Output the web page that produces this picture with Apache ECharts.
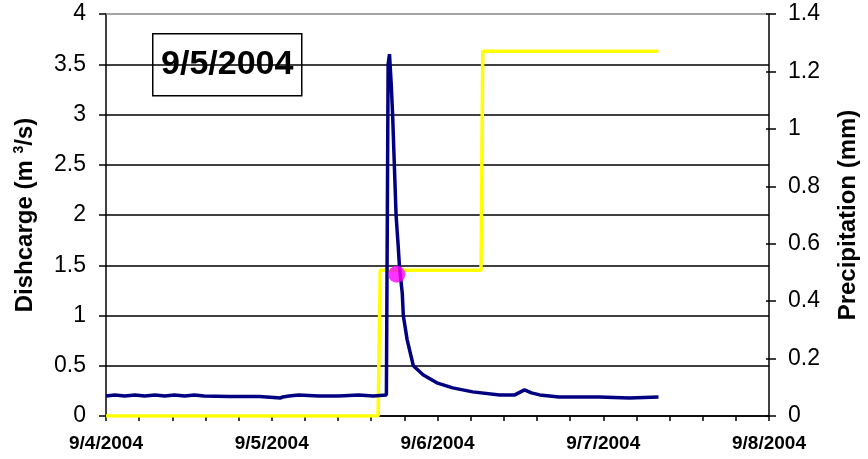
<!DOCTYPE html>
<html>
<head>
<meta charset="utf-8">
<script src="https://cdn.jsdelivr.net/npm/echarts@6/dist/echarts.min.js"></script>
<style>
html,body{margin:0;padding:0;background:#fff;}
#chart{width:868px;height:459px;}
</style>
</head>
<body>
<div id="chart"></div>
<script>
// x values are hours after 9/4/2004 00:00
var xTickLabels = ['9/4/2004', '9/5/2004', '9/6/2004', '9/7/2004', '9/8/2004'];
var dischargeHours = [0, 1.3, 2.7, 4.2, 5.6, 7.1, 8.5, 9.9, 11.4, 12.8, 14.2, 17.8, 22.2, 25.3, 25.6, 26.5, 27.9, 30.8, 33.7, 36.6, 38.7, 40.6,
  40.85, 41.05, 41.3, 41.5, 41.75, 42.0, 42.3, 42.5, 42.9, 43.05, 43.6, 44.5, 45.9, 47.9, 50.2, 53.1, 57.0, 59.2, 60.6, 61.6, 62.8, 65.6, 71.4, 75.8, 80.0];
var dischargeValues = [0.20, 0.21, 0.20, 0.21, 0.20, 0.21, 0.20, 0.21, 0.20, 0.21, 0.20, 0.195, 0.195, 0.18, 0.19, 0.20, 0.21, 0.20, 0.20, 0.21, 0.20, 0.21,
  3.5, 3.6, 3.3, 3.0, 2.5, 2.0, 1.7, 1.48, 1.22, 1.0, 0.76, 0.5, 0.41, 0.33, 0.28, 0.24, 0.21, 0.21, 0.26, 0.23, 0.21, 0.19, 0.19, 0.18, 0.19];
var precipHours = [0, 39.4, 39.7, 54.3, 54.55, 80.0];
var precipValues = [0, 0, 0.508, 0.508, 1.27, 1.27];
var sampleHours = [42.1];
var sampleValues = [1.41];
var titleText = '9/5/2004';

function pairs(xs, ys) { return xs.map(function (x, i) { return [x, ys[i]]; }); }

var font = 'Liberation Sans, Arial, sans-serif';
var gridBox = {left: 106, right: 95, top: 14, bottom: 43};
var chart = echarts.init(document.getElementById('chart'), null, {renderer: 'canvas'});
chart.setOption({
  animation: false,
  backgroundColor: '#fff',
  grid: [Object.assign({}, gridBox), Object.assign({}, gridBox)],
  xAxis: [{
    type: 'value', gridIndex: 0, min: 0, max: 96, interval: 4.8, position: 'bottom',
    axisLine: {onZero: false, lineStyle: {color: '#000', width: 1.5}},
    axisTick: {length: 5, lineStyle: {color: '#000', width: 1.5}},
    splitLine: {show: false},
    axisLabel: {
      margin: 18, color: '#000', fontFamily: font, fontSize: 19, fontWeight: 'bold',
      formatter: function (v) {
        var d = v / 24, r = Math.round(d);
        return Math.abs(d - r) < 1e-6 ? xTickLabels[r] : '';
      }
    }
  }, {
    type: 'value', gridIndex: 0, min: 0, max: 96, position: 'top',
    axisLine: {show: true, onZero: false, lineStyle: {color: '#888', width: 1.5}},
    axisTick: {show: false}, axisLabel: {show: false}, splitLine: {show: false}
  }, {
    type: 'value', gridIndex: 1, min: 0, max: 96, show: false
  }],
  yAxis: [{
    type: 'value', gridIndex: 0, min: 0, max: 4, interval: 0.5, position: 'left',
    name: 'Dishcarge (m {sup|3}/s)', nameLocation: 'middle', nameGap: 68,
    nameTextStyle: {color: '#000', fontFamily: font, fontSize: 24, fontWeight: 'bold',
      rich: {sup: {fontSize: 14, fontWeight: 'bold', fontFamily: font, color: '#000', padding: [0, 0, 12, 0]}}},
    axisLine: {show: true, onZero: false, lineStyle: {color: '#000', width: 1.5}},
    axisTick: {show: true, length: 7, lineStyle: {color: '#000', width: 1.5}},
    axisLabel: {margin: 20, color: '#000', fontFamily: font, fontSize: 23},
    splitLine: {show: true, showMaxLine: false, lineStyle: {color: '#000', width: 1.5}}
  }, {
    type: 'value', gridIndex: 0, min: 0, max: 1.4, interval: 0.2, position: 'right',
    name: 'Precipitation (mm)', nameLocation: 'middle', nameGap: 67,
    nameTextStyle: {color: '#000', fontFamily: font, fontSize: 24, fontWeight: 'bold'},
    axisLine: {show: true, onZero: false, lineStyle: {color: '#000', width: 1.5}},
    axisTick: {show: true, length: 7, lineStyle: {color: '#000', width: 1.5}},
    axisLabel: {margin: 19, color: '#000', fontFamily: font, fontSize: 23},
    splitLine: {show: false}
  }, {
    type: 'value', gridIndex: 1, min: 0, max: 1.4, interval: 0.2, position: 'right',
    axisLine: {show: false, onZero: false},
    axisTick: {show: true, inside: true, length: 7, lineStyle: {color: '#000', width: 1.5}},
    axisLabel: {show: false}, splitLine: {show: false}
  }],
  series: [{
    type: 'line', name: 'Precipitation', xAxisIndex: 0, yAxisIndex: 1, z: 2,
    data: pairs(precipHours, precipValues), showSymbol: false, symbol: 'none',
    lineStyle: {color: '#FFFF00', width: 3.5}
  }, {
    type: 'line', name: 'Discharge', xAxisIndex: 0, yAxisIndex: 0, z: 3,
    data: pairs(dischargeHours, dischargeValues), showSymbol: false, symbol: 'none',
    lineStyle: {color: '#000080', width: 3.5}
  }, {
    type: 'scatter', name: 'Sample', xAxisIndex: 0, yAxisIndex: 0, z: 4,
    data: pairs(sampleHours, sampleValues), symbol: 'circle', symbolSize: 17,
    itemStyle: {color: '#FF00FF'}
  }],
  graphic: [{
    type: 'group', left: 152, top: 33, z: 100,
    children: [{
      type: 'rect', shape: {x: 0, y: 0, width: 149, height: 62},
      style: {fill: '#fff', stroke: '#000', lineWidth: 1.5}
    }, {
      type: 'text', x: 74.5, y: 31,
      style: {text: titleText, fill: '#000', font: 'bold 34px ' + font, textAlign: 'center', textVerticalAlign: 'middle'}
    }]
  }]
});
</script>
</body>
</html>
